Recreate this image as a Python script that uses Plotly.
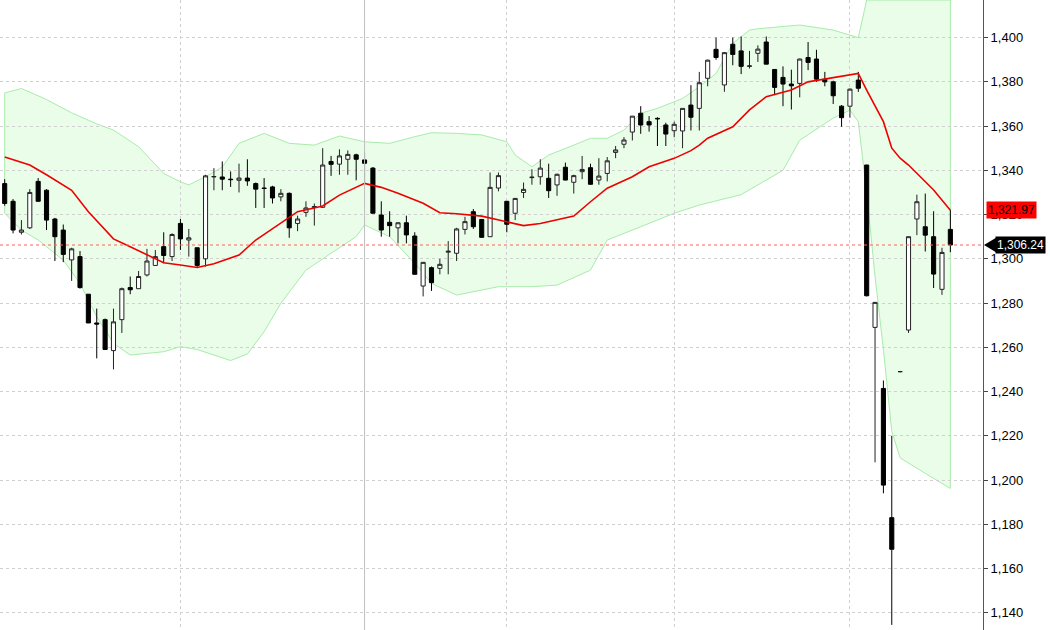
import plotly.graph_objects as go

# daily candles (index = trading day)
opens = [1334, 1326, 1312, 1314, 1335, 1331, 1318, 1313, 1299.5, 1301,
         1284, 1271, 1272.5, 1258.5, 1272.5, 1287, 1286.5, 1292.7, 1297, 1305.5,
         1301, 1316, 1308.5, 1305, 1300, 1337, 1337, 1336, 1335.5, 1336.5,
         1334, 1332, 1332.5, 1328, 1329.6, 1316, 1321, 1323.2, 1323.3, 1344,
         1342.8, 1345, 1347, 1344.7, 1341, 1319.8, 1316.5, 1314, 1316.3, 1310.3,
         1287.7, 1296, 1295.7, 1303, 1302.5, 1313.3, 1321.3, 1317.8, 1310, 1332,
         1326, 1320.6, 1330, 1336.7, 1337.1, 1336.4, 1333.4, 1341.4, 1334.6, 1339.4,
         1341.2, 1335.6, 1338.6, 1348.1, 1351.8, 1357.3, 1365.8, 1362, 1363.5, 1360.5,
         1357.9, 1357.8, 1369.5, 1368, 1381.6, 1394.7, 1378.6, 1397, 1394, 1387,
         1392.9, 1398, 1385.6, 1382, 1379, 1379.3, 1391, 1390.3, 1381.2, 1380,
         1369, 1369, 1380.8, 1342.4, 1269, 1241.4, 1183, 1249, 1267.8, 1318,
         1314.5, 1310, 1286.2, 1313.3]
highs = [1336, 1327, 1317.5, 1331.5, 1336.5, 1331.5, 1318.5, 1315.5, 1305, 1303.5,
         1284, 1277.5, 1273, 1277.5, 1287, 1292, 1294.5, 1304.5, 1304, 1312,
         1311.5, 1318, 1313.5, 1305, 1338, 1341, 1344, 1339.5, 1343, 1345,
         1334.5, 1336.5, 1333, 1331.5, 1330, 1319.5, 1326, 1325, 1350, 1346.5,
         1349.5, 1349, 1347.5, 1348, 1341.5, 1326, 1321.5, 1316.5, 1319.5, 1312,
         1298.5, 1296.5, 1300, 1308, 1314, 1319, 1322.5, 1318, 1339, 1339,
         1326, 1327.5, 1334.5, 1340.5, 1345, 1343, 1338.5, 1343.5, 1338, 1346.5,
         1343, 1345.5, 1346, 1351, 1355, 1364.5, 1369, 1364.5, 1364, 1361.5,
         1362, 1368, 1378.5, 1384.5, 1390, 1400, 1393.5, 1400, 1400.5, 1394,
         1396.5, 1400.5, 1385.6, 1387, 1385.5, 1390.5, 1398, 1394.5, 1384.5, 1380.5,
         1369.5, 1377, 1384.5, 1342.5, 1280.5, 1245, 1220, 1249.3, 1310, 1329,
         1329.5, 1321.5, 1305, 1322]
lows = [1324, 1311.5, 1311, 1313.5, 1326, 1313, 1299, 1298.5, 1290, 1286.5,
        1271, 1255, 1259, 1250, 1266.5, 1284, 1286.5, 1292, 1297, 1298,
        1299, 1304, 1301, 1296, 1296.5, 1331, 1331, 1332.5, 1330, 1333,
        1323, 1323, 1325, 1326, 1309.5, 1312.5, 1319, 1315, 1323, 1337.5,
        1338, 1338, 1335.5, 1334.5, 1320.5, 1310, 1310, 1307, 1307, 1293,
        1283, 1285.5, 1293, 1293, 1299, 1311, 1313.5, 1309.7, 1310, 1330.5,
        1312, 1317.5, 1327.5, 1333.5, 1333.5, 1327.5, 1328.5, 1335.5, 1329.5, 1336,
        1333.5, 1333.5, 1335, 1345.5, 1350, 1353.5, 1356.5, 1357.5, 1351, 1351,
        1355, 1350, 1358, 1358, 1378, 1390, 1375.5, 1387.5, 1383.5, 1386,
        1389, 1388, 1374, 1369, 1367.5, 1373, 1385.3, 1380, 1378, 1370,
        1359.7, 1363.8, 1375.5, 1283, 1208, 1194, 1134.5, 1248.7, 1266.5, 1310.7,
        1303.3, 1286.8, 1283.7, 1303]
closes = [1325, 1313, 1313, 1330, 1326, 1317.5, 1310, 1302, 1304.5, 1287,
          1271, 1270.5, 1259, 1271.5, 1286.5, 1286, 1292, 1299, 1301, 1301.5,
          1311, 1309, 1309.5, 1297, 1337.5, 1337.2, 1336, 1335.8, 1336.5, 1335.2,
          1331.5, 1331.8, 1327.5, 1329.6, 1314, 1318, 1323, 1323.6, 1342.4, 1342.7,
          1346.5, 1347.2, 1345, 1343.2, 1320.6, 1313, 1315, 1316.3, 1310.8, 1293,
          1298.4, 1289.2, 1297.5, 1303.4, 1313.5, 1316.8, 1314.5, 1309.7, 1332.3, 1337.6,
          1315.6, 1327.3, 1331.4, 1336.9, 1341, 1330.8, 1338.2, 1335.6, 1337.6, 1340.4,
          1333.7, 1337.4, 1344.3, 1349.2, 1353.7, 1364.5, 1360.5, 1360.5, 1363.3, 1356.4,
          1360.8, 1368, 1364, 1379.6, 1389.8, 1391, 1393.2, 1392.4, 1387, 1387.2,
          1394.8, 1388, 1377.5, 1379, 1378.2, 1390.3, 1388.8, 1381.2, 1380, 1373.7,
          1363.8, 1376.7, 1377.1, 1283.3, 1280.3, 1197.7, 1168.7, 1249, 1310, 1325.8,
          1310.7, 1293.1, 1302.9, 1306.24]
days = list(range(len(closes)))

# 20-day average and bands, read at selected days
ma_days = [0, 3, 5, 8, 10, 13, 15, 17, 19, 21, 23, 25, 28, 30, 33, 35, 38, 40, 43, 45,
           47, 50, 52, 54, 57, 59, 62, 64, 68, 70, 72, 75, 77, 80, 82, 83, 84, 87, 89, 91,
           94, 96, 99, 102, 103, 105, 106, 107, 108, 109, 111, 113]
ma_vals = [1346, 1342.4, 1338, 1331, 1321.3, 1309, 1305.5, 1301.7, 1298.2, 1297.2,
           1296.1, 1297.8, 1301.7, 1308.5, 1316, 1321.3, 1323.9, 1328.8, 1334.1, 1332.3,
           1329.6, 1325.1, 1320.8, 1320.4, 1319.3, 1317.5, 1315, 1316, 1319.3, 1325.8,
           1331.9, 1337.1, 1341.6, 1345.4, 1348.9, 1351.4, 1354.5, 1359.7, 1367.3, 1373.3,
           1376.3, 1380, 1382, 1383.8, 1376.3, 1362, 1350, 1345.5, 1342.4, 1338.6,
           1331.1, 1321.97]
up_days = [0, 2, 5, 8, 11, 13, 16, 19, 21, 22, 24, 26, 28, 31, 34, 37, 40, 43, 46, 49,
           51, 54, 57, 60, 61, 63, 65, 68, 70, 72, 74, 76, 78, 81, 83, 85, 87, 89, 90, 95,
           99, 102, 103, 105, 113]
up_vals = [1375, 1377, 1372, 1366, 1361, 1358.2, 1350.7, 1338.6, 1334.8, 1333.4,
           1337.1, 1341.5, 1352.2, 1356.7, 1352.2, 1351.4, 1355.5, 1352.9, 1352.2, 1355.2,
           1357, 1356.7, 1356, 1352.9, 1346.9, 1341.6, 1346.9, 1351.4, 1354.5, 1354.5,
           1358.2, 1365.8, 1368, 1372.5, 1377.8, 1383.8, 1397.4, 1403.4, 1404, 1405.7,
           1403.4, 1400, 1450, 1480, 1500]
lo_days = [0, 2, 4, 7, 9, 11, 13, 15, 19, 21, 23, 27, 29, 31, 33, 36, 39, 42, 43, 46,
           49, 51, 54, 59, 63, 66, 70, 72, 76, 80, 83, 88, 93, 95, 99, 101, 102, 103, 104, 105,
           106, 107, 110, 113]
lo_vals = [1320.6, 1313, 1308.5, 1299.4, 1288.9, 1273.8, 1261.8, 1256.5, 1258, 1260.3,
           1259, 1254, 1257, 1267, 1279.9, 1294.9, 1302.5, 1310, 1315.3, 1310,
           1298, 1288.9, 1283.6, 1287.4, 1287.4, 1288.1, 1294.9, 1308.5, 1314.5, 1320.6,
           1324.3, 1329, 1340, 1353.6, 1363.6, 1367.2, 1362, 1330, 1292, 1259,
           1222, 1210, 1203, 1196.2]

last_close = closes[-1]
last_ma = ma_vals[-1]
y_lo, y_hi = 1132.2, 1417

fig = go.Figure()

# band drawn as a shape under the candles (scatter fills would cover them)
band = [f'{d} {min(max(v, y_lo), y_hi)}' for d, v in zip(up_days, up_vals)]
band += [f'{d} {v}' for d, v in zip(lo_days[::-1], lo_vals[::-1])]
fig.add_shape(type='path', layer='below', xref='x', yref='y',
              path='M ' + ' L '.join(band) + ' Z',
              fillcolor='#e9fde9', line=dict(color='#a8ecaa', width=1))

fig.add_trace(go.Candlestick(
    x=days, open=opens, high=highs, low=lows, close=closes,
    increasing=dict(line=dict(color='#222222', width=1), fillcolor='white'),
    decreasing=dict(line=dict(color='#000000', width=1), fillcolor='black'),
    whiskerwidth=0))
fig.add_trace(go.Scatter(x=ma_days, y=ma_vals, mode='lines',
                         line=dict(color='#ee0000', width=1.6)))

# last-close dotted line and the two price tags on the axis
fig.add_hline(y=last_close, line=dict(color='#ff6060', width=1, dash='dot'))
fig.add_annotation(x=1.003, xref='paper', y=last_ma, yref='y', text='1,321.97',
                   showarrow=False, xanchor='left', bgcolor='#ff0000',
                   font=dict(family='Liberation Sans', size=12, color='black'),
                   borderpad=1)
fig.add_shape(type='path', xref='paper', yref='y', fillcolor='black',
              line=dict(width=0),
              path=f'M 1.001 {last_close} L 1.015 {last_close + 3.7} '
                   f'L 1.015 {last_close - 3.7} Z')
fig.add_annotation(x=1.012, xref='paper', y=last_close, yref='y', text='1,306.24',
                   showarrow=False, xanchor='left', bgcolor='black',
                   font=dict(family='Liberation Sans', size=12, color='white'),
                   borderpad=1)

fig.update_layout(
    width=1050, height=630, showlegend=False,
    margin=dict(l=0, r=67, t=0, b=0, autoexpand=False),
    paper_bgcolor='white', plot_bgcolor='white',
    xaxis=dict(range=[-0.56, 116.9], rangeslider=dict(visible=False),
               tickvals=[21, 43, 60, 80, 101], showticklabels=False, automargin=False,
               showgrid=True, gridcolor='#d0d0d0', griddash='dot', zeroline=False),
    yaxis=dict(range=[y_lo, y_hi], side='right', tickformat=',.0f', dtick=20,
               tick0=1140, showgrid=True, gridcolor='#d0d0d0', griddash='dot',
               showline=True, linecolor='#555555', ticks='outside', ticklen=4,
               automargin=False,
               tickfont=dict(family='Liberation Sans', size=13, color='black'),
               zeroline=False),
)
fig.add_vline(x=43, line=dict(color='#c0c0c0', width=1))

# the page body has a default 8px margin; drop it so the chart fills the window
fig.write_html("out.html", config={'displayModeBar': False},
               post_script="document.body.style.margin='0px';")
